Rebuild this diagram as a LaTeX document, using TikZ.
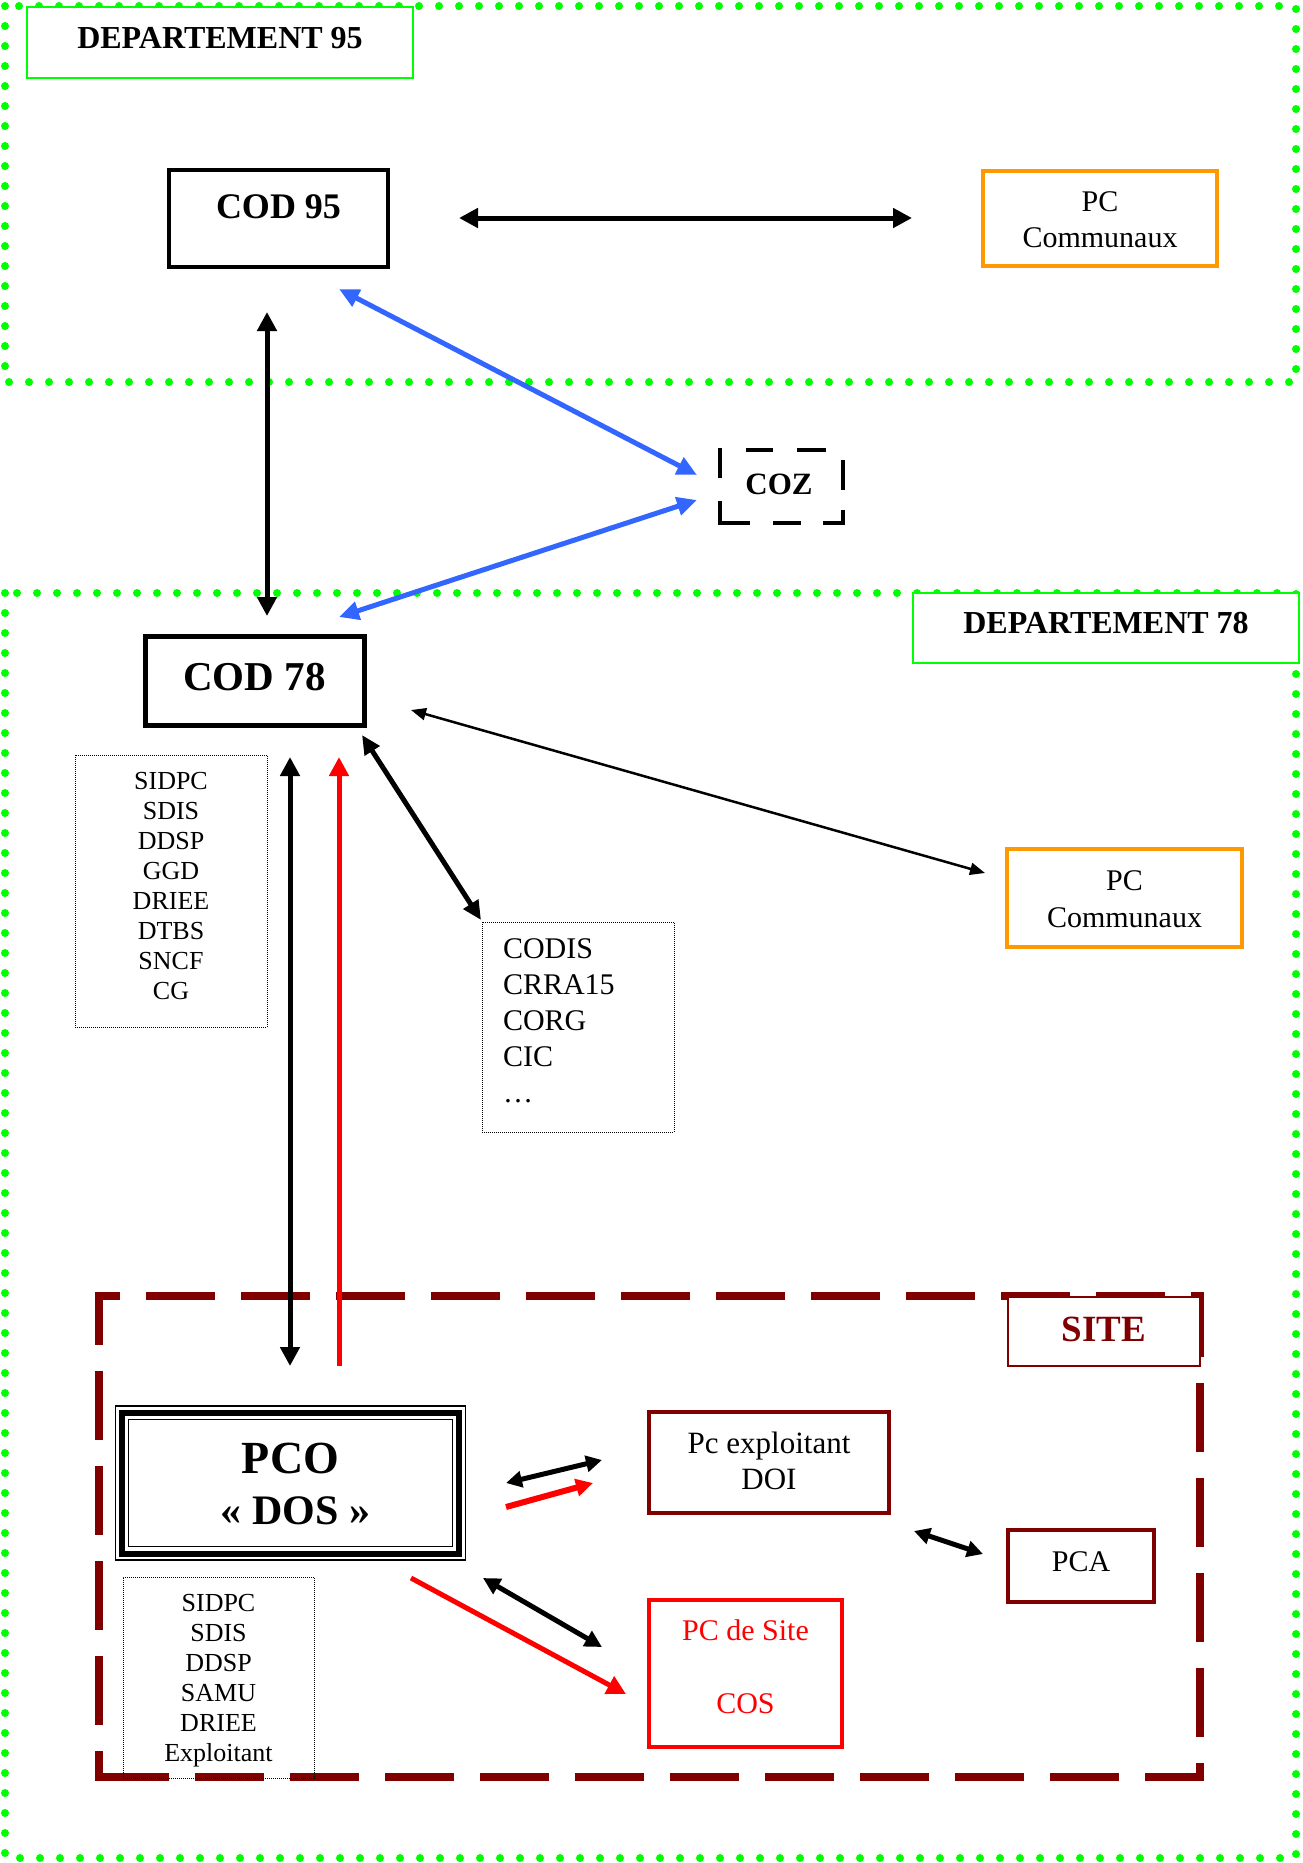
\documentclass[tikz,border=0pt]{standalone}
\usepackage{fontspec}
\setmainfont{Liberation Serif}
\usetikzlibrary{arrows.meta}
\definecolor{grn}{RGB}{0,255,0}
\definecolor{orng}{RGB}{255,153,0}
\definecolor{dred}{RGB}{128,0,0}
\definecolor{rd}{RGB}{255,0,0}
\definecolor{blu}{RGB}{51,102,255}
\newcommand\mystack[1]{\begin{tabular}[b]{@{}c@{}}#1\end{tabular}}
\begin{document}
\begin{tikzpicture}[x=1pt,y=-1pt,
  bx/.style={inner sep=0pt, outer sep=0pt, anchor=base},
  dotframe/.style={draw=grn, line width=8pt, dash pattern=on 0pt off 20pt, line cap=round},
  deplbl/.style={bx, draw=grn, line width=1.5pt, fill=white, font=\fontsize{32}{38}\selectfont\bfseries},
  thinlist/.style={bx, draw, line width=0.8pt, dash pattern=on 1pt off 1pt},
  sitedash/.style={draw=dred, line width=8pt, dash pattern=on 69pt off 26pt},
  cozdash/.style={draw, line width=4.5pt, line cap=rect},
  biarrow/.style={line width=5pt, {Triangle[length=19pt,width=19pt]}-{Triangle[length=19pt,width=19pt]}},
  sbiarrow/.style={line width=5pt, {Triangle[length=16pt,width=16pt]}-{Triangle[length=16pt,width=16pt]}},
  thinbiarrow/.style={line width=2.5pt, {Triangle[length=15pt,width=12pt]}-{Triangle[length=15pt,width=12pt]}},
  bluearrow/.style={draw=blu, line width=5pt, {Triangle[length=20pt,width=18pt]}-{Triangle[length=20pt,width=18pt]}},
  redarrow/.style={draw=rd, line width=5pt, -{Triangle[length=19pt,width=19pt]}}
]
\useasboundingbox (0,0) rectangle (1303,1863);

% department frames
\draw[dotframe] (5,6) rectangle (1296,382);
\draw[dotframe] (5,593) rectangle (1296,1858);

% site frame
\draw[sitedash, dash phase=44pt] (95,1296) -- (1204,1296);
\draw[sitedash, dash phase=16pt] (99,1292) -- (99,1781);
\draw[sitedash, dash phase=90pt] (95,1777) -- (1204,1777);
\draw[sitedash, dash phase=4pt] (1200,1292) -- (1200,1781);

% labels
\node[deplbl, minimum width=386pt, text height=41pt, text depth=30pt] (dep95) at (220,48) {DEPARTEMENT 95};
\node[deplbl, minimum width=386pt, text height=40pt, text depth=30pt] (dep78) at (1106,633) {DEPARTEMENT 78};
\node[bx, draw=dred, line width=1.5pt, fill=white, minimum width=192pt, text height=44pt, text depth=25pt, text=dred, font=\fontsize{37}{44}\selectfont\bfseries] (site) at (1104,1341) {SITE};

% boxes
\node[bx, draw, line width=4pt, minimum width=219pt, text height=48pt, text depth=49pt, font=\fontsize{36}{43}\selectfont\bfseries] (cod95) at (278.5,218) {COD 95};
\node[bx, draw=orng, line width=4pt, minimum width=234pt, text height=76pt, text depth=19pt, font=\fontsize{30}{36}\selectfont] (pc95) at (1100,247) {\mystack{PC\\Communaux}};

\node[bx, minimum width=123pt, text height=44pt, text depth=29pt, font=\fontsize{31}{37}\selectfont\bfseries] (coz) at (781.5,494) {\hspace*{-5pt}COZ};
\draw[cozdash] (720,450) -- (720,476) (720,503) -- (720,523) -- (748,523)
  (775,523) -- (799,523) (825,523) -- (843,523) -- (843,512)
  (843,488) -- (843,462) (824,450) -- (799,450) (771,450) -- (748,450);

\node[bx, draw, line width=5pt, minimum width=219pt, text height=54pt, text depth=35pt, font=\fontsize{41}{49}\selectfont\bfseries] (cod78) at (254.5,690) {COD 78};
\node[thinlist, minimum width=192pt, text height=244pt, text depth=28pt, font=\fontsize{26}{30}\selectfont] (grp78) at (171,999) {\mystack{SIDPC\\SDIS\\DDSP\\GGD\\DRIEE\\DTBS\\SNCF\\CG}};
\node[thinlist, minimum width=192pt, text height=180pt, text depth=30pt, font=\fontsize{30}{36}\selectfont] (codis) at (578,1102) {\makebox[192pt][l]{\hspace*{21pt}\begin{tabular}[b]{@{}l@{}}CODIS\\CRRA15\\CORG\\CIC\\…\end{tabular}}};
\node[bx, draw=orng, line width=4pt, minimum width=235pt, text height=78pt, text depth=20pt, font=\fontsize{30}{37}\selectfont] (pc78) at (1124.5,927) {\mystack{PC\\Communaux}};

\node[bx, draw, line width=6pt, minimum width=337pt, text height=111.5pt, text depth=29.5pt, font=\fontsize{44}{51}\selectfont\bfseries] (pco) at (290.5,1524) {\mystack{{\fontsize{46}{51}\selectfont PCO}\\{\fontsize{42}{51}\selectfont\hspace*{10pt}«~DOS~»}}};
\draw[line width=1.3pt] ([xshift=-6.5pt,yshift=6.5pt]pco.north west) rectangle ([xshift=6.5pt,yshift=-6.5pt]pco.south east);
\draw[line width=1.3pt] ([xshift=6.8pt,yshift=-6.8pt]pco.north west) rectangle ([xshift=-6.8pt,yshift=6.8pt]pco.south east);

\node[thinlist, minimum width=191pt, text height=184pt, text depth=17pt, font=\fontsize{26}{30}\selectfont] (grpsite) at (218.5,1761) {\mystack{SIDPC\\SDIS\\DDSP\\SAMU\\DRIEE\\Exploitant}};
\node[bx, draw=dred, line width=3.5pt, minimum width=240pt, text height=77pt, text depth=24pt, font=\fontsize{31}{36}\selectfont] (pcex) at (769,1489) {\mystack{Pc exploitant\\DOI}};
\node[bx, draw=dred, line width=3.5pt, minimum width=146pt, text height=41pt, text depth=31pt, font=\fontsize{30}{36}\selectfont] (pca) at (1081,1571) {PCA};
\node[bx, draw=rd, line width=3.5pt, minimum width=193pt, text height=113pt, text depth=34pt, text=rd, font=\fontsize{30}{36.5}\selectfont] (pcsite) at (745.5,1713) {\mystack{PC de Site\\ \\COS}};

% connector end points
\coordinate (c95e) at (459,218);   \coordinate (pc95w) at (912,218);
\coordinate (c95s) at (267,312);   \coordinate (c78n) at (267,616);
\coordinate (c95se) at (339,289);  \coordinate (cozw1) at (697,475);
\coordinate (cozw2) at (697,500);  \coordinate (c78ne) at (339,617);
\coordinate (c78e) at (411,710);   \coordinate (pc78w) at (985,873);
\coordinate (c78se) at (362,735);  \coordinate (codisn) at (481,920);
\coordinate (c78s1) at (290,757);  \coordinate (pcon1) at (290,1366);
\coordinate (c78s2) at (339,757);  \coordinate (pcon2) at (339,1366);
\coordinate (pcoe1) at (506,1483); \coordinate (pcexw1) at (602,1460);
\coordinate (pcoe2) at (506,1507); \coordinate (pcexw2) at (593,1483);
\coordinate (pcexse) at (914,1531); \coordinate (pcaw) at (983,1554);
\coordinate (pcose1) at (411,1578); \coordinate (pcsitenw1) at (626,1694);
\coordinate (pcose2) at (483,1578); \coordinate (pcsitenw2) at (602,1647);

% connectors
\draw[biarrow] (c95e) -- (pc95w);
\draw[biarrow] (c95s) -- (c78n);
\draw[bluearrow] (c95se) -- (cozw1);
\draw[bluearrow] (cozw2) -- (c78ne);
\draw[thinbiarrow] (c78e) -- (pc78w);
\draw[line width=5pt, {Triangle[length=19pt,width=17pt]}-{Triangle[length=19pt,width=17pt]}] (c78se) -- (codisn);
\draw[biarrow] (c78s1) -- (pcon1);
\draw[redarrow] (pcon2) -- (c78s2);
\draw[sbiarrow] (pcoe1) -- (pcexw1);
\draw[redarrow, line width=6pt, -{Triangle[length=17pt,width=17pt]}] (pcoe2) -- (pcexw2);
\draw[sbiarrow] (pcexse) -- (pcaw);
\draw[redarrow] (pcose1) -- (pcsitenw1);
\draw[line width=5pt, {Triangle[length=17pt,width=17pt]}-{Triangle[length=17pt,width=17pt]}] (pcose2) -- (pcsitenw2);
\end{tikzpicture}
\end{document}
